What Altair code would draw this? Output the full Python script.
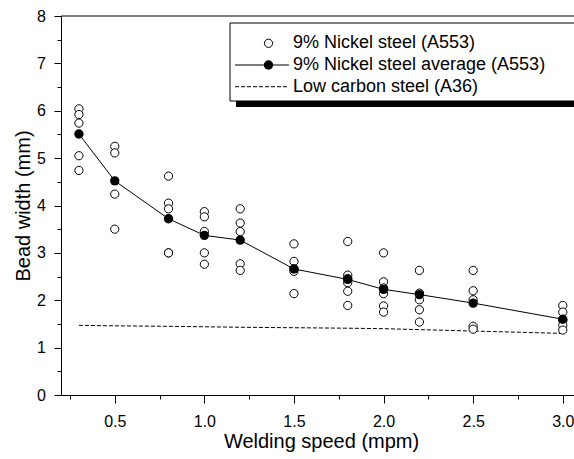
import altair as alt
import pandas as pd

# ---------------- data ----------------
speeds = [0.3, 0.5, 0.8, 1.0, 1.2, 1.5, 1.8, 2.0, 2.2, 2.5, 3.0]
nickel_samples = [
    [6.04, 5.92, 5.74, 5.05, 4.74],
    [5.25, 5.11, 4.24, 3.50],
    [4.62, 4.05, 3.93, 3.00, 3.00],
    [3.87, 3.76, 3.45, 3.00, 2.76],
    [3.93, 3.63, 3.45, 2.77, 2.63],
    [3.19, 2.82, 2.66, 2.61, 2.14],
    [3.24, 2.53, 2.46, 2.37, 2.19, 1.89],
    [3.00, 2.39, 2.26, 2.14, 1.88, 1.75],
    [2.63, 2.15, 2.01, 1.80, 1.54],
    [2.63, 2.20, 2.01, 1.45, 1.39],
    [1.89, 1.75, 1.58, 1.47, 1.37],
]
nickel_avg = [5.51, 4.52, 3.72, 3.37, 3.27, 2.66, 2.44, 2.23, 2.12, 1.94, 1.60]
low_carbon = [1.47, 1.46, 1.45, 1.44, 1.43, 1.42, 1.41, 1.40, 1.38, 1.35, 1.30]
legend_labels = [
    "9% Nickel steel (A553)",
    "9% Nickel steel average (A553)",
    "Low carbon steel (A36)",
]
x_title = "Welding speed (mpm)"
y_title = "Bead width (mm)"
x_major_ticks = [0.5, 1.0, 1.5, 2.0, 2.5, 3.0]
x_minor_ticks = [0.25, 0.75, 1.25, 1.75, 2.25, 2.75]
y_major_ticks = [0, 1, 2, 3, 4, 5, 6, 7, 8]
y_minor_ticks = [0.5, 1.5, 2.5, 3.5, 4.5, 5.5, 6.5, 7.5]

# ---------------- tables ----------------
samples_df = pd.DataFrame(
    [{"speed": s, "width": v} for s, vals in zip(speeds, nickel_samples) for v in vals]
)
avg_df = pd.DataFrame({"speed": speeds, "width": nickel_avg})
lc_df = pd.DataFrame({"speed": speeds, "width": low_carbon})
one = pd.DataFrame({"a": [0]})

# ---------------- layout ----------------
FONT = "Liberation Sans, Arial, sans-serif"
W = 513
H = 379
PX_PER_UNIT = 179.2
XMIN = 0.2
XMAX = XMIN + W / PX_PER_UNIT

xscale = alt.Scale(domain=[XMIN, XMAX], nice=False, zero=False)
yscale = alt.Scale(domain=[0, 8], nice=False, zero=False)

x_major_axis = alt.Axis(
    orient="bottom",
    values=x_major_ticks,
    format=".1f",
    tickSize=8,
    labelPadding=10.5,
    labelFlush=False,
    labelOverlap=False,
    grid=False,
    title=x_title,
    titleX=260,
    titleY=36,
    titleBaseline="top",
    titleAlign="center",
)
x_minor_axis = alt.Axis(
    orient="bottom",
    values=x_minor_ticks,
    tickSize=4,
    labels=False,
    domain=False,
    grid=False,
    title=None,
)
y_major_axis = alt.Axis(
    orient="left",
    values=y_major_ticks,
    format="d",
    tickSize=7,
    labelPadding=8.5,
    labelOverlap=False,
    grid=False,
    title=y_title,
    titleX=-28,
    titleY=H / 2,
)
y_minor_axis = alt.Axis(
    orient="left",
    values=y_minor_ticks,
    tickSize=4,
    labels=False,
    domain=False,
    grid=False,
    title=None,
)


def X(axis=None):
    return alt.X("speed:Q", scale=xscale, axis=axis)


def Y(axis=None):
    return alt.Y("width:Q", scale=yscale, axis=axis)


minor_layer = alt.Chart(avg_df).mark_point(opacity=0).encode(
    x=X(x_minor_axis), y=Y(y_minor_axis)
)

top_border = alt.Chart(one).mark_rule(color="black", strokeWidth=1).encode(
    x=alt.value(0), x2=alt.value(W + 20), y=alt.value(0)
)

lc_line = alt.Chart(lc_df).mark_line(
    color="black", strokeWidth=1, strokeDash=[4, 2]
).encode(x=X(x_major_axis), y=Y(y_major_axis))

avg_line = alt.Chart(avg_df).mark_line(color="black", strokeWidth=1).encode(
    x=X(), y=Y()
)

open_pts = alt.Chart(samples_df).mark_point(
    shape="circle", size=68, filled=False, fill="white", fillOpacity=1,
    stroke="black", strokeWidth=1, opacity=1
).encode(x=X(), y=Y())

filled_pts = alt.Chart(avg_df).mark_circle(
    size=88, color="black", opacity=1
).encode(x=X(), y=Y())

# ---------------- legend (box with drop shadow) ----------------
LX, LY, LY2 = 169, 7, 85
shadow = alt.Chart(one).mark_rect(fill="black").encode(
    x=alt.value(LX + 6), x2=alt.value(W + 40), y=alt.value(LY + 6), y2=alt.value(LY2 + 6)
)
box = alt.Chart(one).mark_rect(fill="white", stroke="black", strokeWidth=1).encode(
    x=alt.value(LX), x2=alt.value(W + 30), y=alt.value(LY), y2=alt.value(LY2)
)
rows_y = [27.3, 49, 70.7]
sym_x = 207.5
leg_open = alt.Chart(one).mark_point(
    shape="circle", size=68, filled=False, fill="white", fillOpacity=1,
    stroke="black", strokeWidth=1, opacity=1
).encode(x=alt.value(sym_x), y=alt.value(rows_y[0]))
leg_line = alt.Chart(one).mark_rule(color="black", strokeWidth=1).encode(
    x=alt.value(174), x2=alt.value(228), y=alt.value(rows_y[1])
)
leg_filled = alt.Chart(one).mark_circle(size=88, color="black", opacity=1).encode(
    x=alt.value(sym_x), y=alt.value(rows_y[1])
)
leg_dash = alt.Chart(one).mark_rule(color="black", strokeWidth=1, strokeDash=[4, 2]).encode(
    x=alt.value(174), x2=alt.value(227), y=alt.value(rows_y[2])
)
leg_texts = [
    alt.Chart(one).mark_text(
        align="left", baseline="middle", fontSize=18, font=FONT, color="black"
    ).encode(x=alt.value(232), y=alt.value(yy), text=alt.value(lbl))
    for lbl, yy in zip(legend_labels, rows_y)
]

chart = alt.layer(
    minor_layer, lc_line, avg_line, open_pts, filled_pts, top_border,
    shadow, box, leg_open, leg_line, leg_filled, leg_dash, *leg_texts
).resolve_axis(
    x="independent", y="independent"
).properties(
    width=W,
    height=H,
    padding={"left": 61, "top": 16, "right": 0, "bottom": 64},
    autosize=alt.AutoSizeParams(type="none"),
    background="white",
).configure_view(
    stroke=None
).configure_axis(
    domainColor="black",
    domainWidth=1,
    tickColor="black",
    tickWidth=1,
    labelColor="black",
    labelFont=FONT,
    labelFontSize=16,
    titleColor="black",
    titleFont=FONT,
    titleFontSize=20,
    titleFontWeight="normal",
)

chart.save("out.html", embed_options={"renderer": "svg", "actions": False})
